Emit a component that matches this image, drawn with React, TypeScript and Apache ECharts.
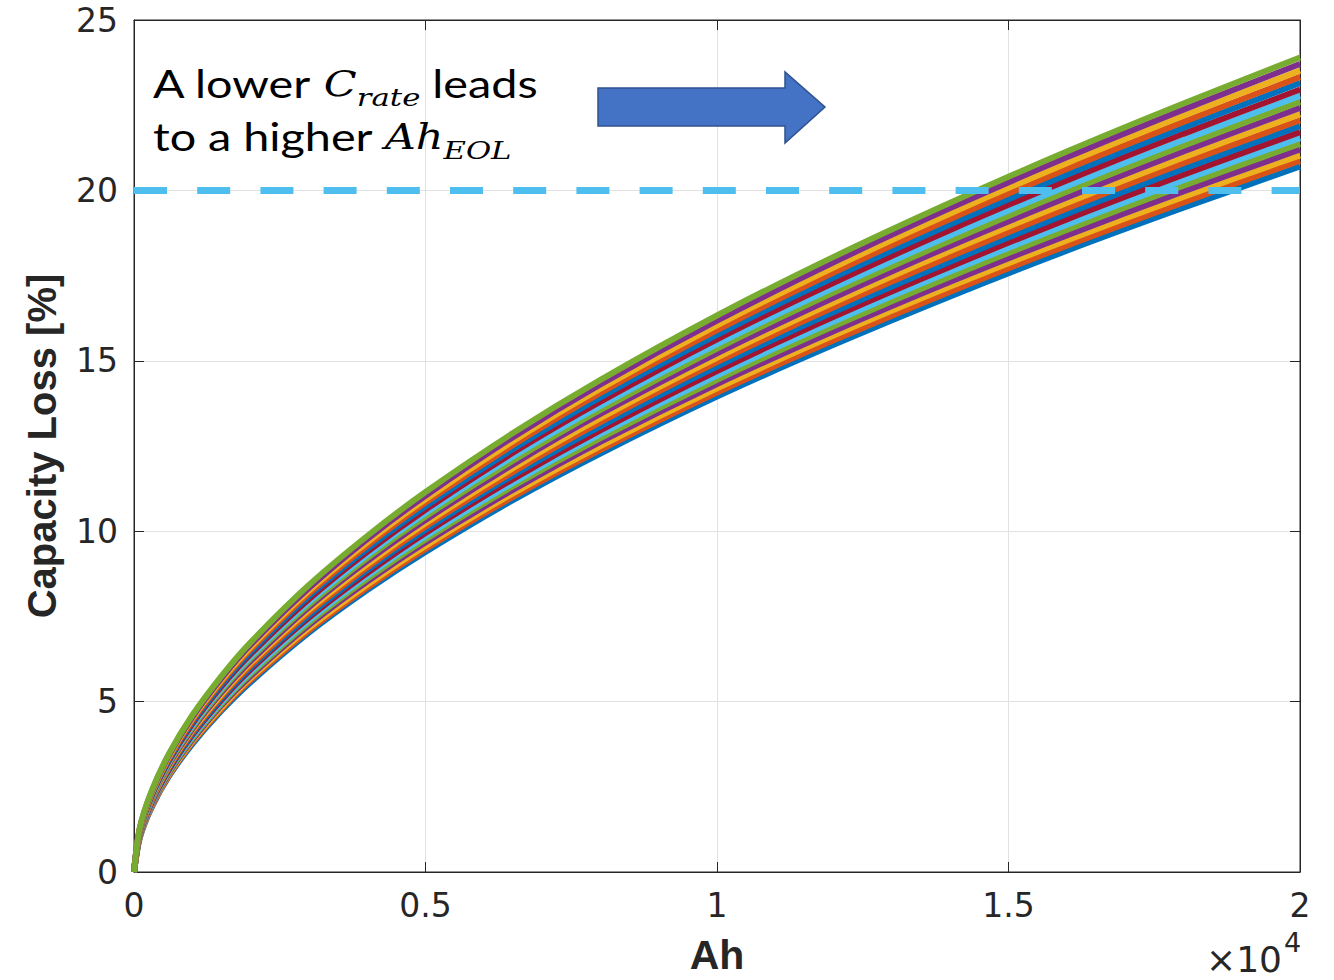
import React, { useEffect, useRef } from "react";
import * as echarts from "echarts";

// Ah sample positions (x) shared by every curve
const ahPoints = [0, 100, 300, 600, 1000, 1500, 2000, 3000, 4000, 5000, 6500, 8000, 10000, 12000, 14000, 16000, 18000, 20000];

// Capacity loss [%] of each C-rate curve, bottom (highest C-rate) to top
const loss01 = [0, 1.01, 1.89, 2.81, 3.75, 4.73, 5.57, 7.02, 8.27, 9.39, 10.91, 12.28, 13.95, 15.47, 16.89, 18.23, 19.49, 20.7];
const loss02 = [0, 1.02, 1.91, 2.84, 3.8, 4.78, 5.63, 7.09, 8.35, 9.48, 11.01, 12.39, 14.07, 15.6, 17.03, 18.38, 19.65, 20.87];
const loss03 = [0, 1.04, 1.94, 2.87, 3.84, 4.83, 5.69, 7.16, 8.43, 9.57, 11.11, 12.5, 14.19, 15.74, 17.18, 18.53, 19.81, 21.03];
const loss04 = [0, 1.05, 1.96, 2.91, 3.88, 4.89, 5.75, 7.24, 8.52, 9.67, 11.21, 12.62, 14.32, 15.87, 17.32, 18.68, 19.97, 21.2];
const loss05 = [0, 1.07, 1.99, 2.94, 3.93, 4.94, 5.81, 7.31, 8.6, 9.76, 11.32, 12.73, 14.44, 16.01, 17.47, 18.84, 20.14, 21.37];
const loss06 = [0, 1.08, 2.01, 2.98, 3.97, 4.99, 5.87, 7.38, 8.69, 9.85, 11.42, 12.85, 14.57, 16.15, 17.62, 18.99, 20.3, 21.54];
const loss07 = [0, 1.1, 2.04, 3.01, 4.02, 5.05, 5.94, 7.46, 8.77, 9.95, 11.53, 12.96, 14.7, 16.29, 17.76, 19.15, 20.46, 21.71];
const loss08 = [0, 1.11, 2.07, 3.05, 4.06, 5.1, 6.0, 7.53, 8.86, 10.04, 11.64, 13.08, 14.83, 16.43, 17.91, 19.31, 20.63, 21.89];
const loss09 = [0, 1.13, 2.09, 3.09, 4.11, 5.16, 6.06, 7.61, 8.94, 10.14, 11.74, 13.2, 14.96, 16.57, 18.06, 19.47, 20.8, 22.06];
const loss10 = [0, 1.14, 2.12, 3.12, 4.16, 5.21, 6.13, 7.69, 9.03, 10.23, 11.85, 13.32, 15.09, 16.71, 18.22, 19.63, 20.97, 22.24];
const loss11 = [0, 1.16, 2.15, 3.16, 4.2, 5.27, 6.19, 7.77, 9.12, 10.33, 11.96, 13.44, 15.22, 16.85, 18.37, 19.79, 21.14, 22.42];
const loss12 = [0, 1.18, 2.17, 3.2, 4.25, 5.33, 6.26, 7.84, 9.21, 10.43, 12.07, 13.56, 15.36, 17.0, 18.52, 19.96, 21.31, 22.6];
const loss13 = [0, 1.19, 2.2, 3.24, 4.3, 5.39, 6.32, 7.92, 9.3, 10.53, 12.19, 13.68, 15.49, 17.14, 18.68, 20.12, 21.48, 22.78];
const loss14 = [0, 1.21, 2.23, 3.27, 4.35, 5.45, 6.39, 8.0, 9.39, 10.63, 12.3, 13.8, 15.63, 17.29, 18.84, 20.29, 21.66, 22.96];
const loss15 = [0, 1.23, 2.26, 3.31, 4.4, 5.51, 6.46, 8.09, 9.48, 10.73, 12.41, 13.93, 15.76, 17.44, 19.0, 20.46, 21.84, 23.15];
const loss16 = [0, 1.24, 2.29, 3.35, 4.45, 5.57, 6.53, 8.17, 9.58, 10.84, 12.53, 14.06, 15.9, 17.59, 19.16, 20.63, 22.01, 23.33];
const loss17 = [0, 1.26, 2.31, 3.39, 4.5, 5.63, 6.6, 8.25, 9.67, 10.94, 12.64, 14.18, 16.04, 17.74, 19.32, 20.8, 22.19, 23.52];
const loss18 = [0, 1.28, 2.34, 3.43, 4.55, 5.69, 6.67, 8.33, 9.77, 11.04, 12.76, 14.31, 16.18, 17.89, 19.48, 20.97, 22.37, 23.71];
const loss19 = [0, 1.3, 2.37, 3.47, 4.6, 5.75, 6.74, 8.42, 9.86, 11.15, 12.88, 14.44, 16.33, 18.05, 19.64, 21.14, 22.55, 23.9];

const lossCurves = [loss01, loss02, loss03, loss04, loss05, loss06, loss07, loss08, loss09, loss10, loss11, loss12, loss13, loss14, loss15, loss16, loss17, loss18, loss19];

// MATLAB default colour order
const curveColors = ["#0072BD", "#D95319", "#EDB120", "#7E2F8E", "#77AC30", "#4DBEEE", "#A2142F"];

// End-of-life threshold line
const eolLevel = 20;
const eolAhRange = [0, 20000];

const xTickValues = [0, 5000, 10000, 15000, 20000];
const yTickValues = [0, 5, 10, 15, 20, 25];

const AXIS_COLOR = "#262626";
const GRID_COLOR = "#e2e2e2";
const TICK_FONT = "DejaVu Sans";

export default function App() {
  const ref = useRef<HTMLDivElement>(null);

  useEffect(() => {
    if (!ref.current) return;
    const chart = echarts.init(ref.current, undefined, { renderer: "svg" });

    const curveSeries = lossCurves.map((curve, i) => ({
      type: "line",
      name: `curve${i + 1}`,
      data: ahPoints.map((ah, j) => [ah, curve[j]]),
      showSymbol: false,
      symbol: "none",
      smooth: 0.3,
      silent: true,
      lineStyle: { width: 6, color: curveColors[i % curveColors.length] },
      xAxisIndex: 0,
      yAxisIndex: 0,
    }));

    const eolSeries = {
      type: "line",
      name: "EOL",
      data: eolAhRange.map((ah) => [ah, eolLevel]),
      showSymbol: false,
      symbol: "none",
      silent: true,
      lineStyle: { width: 7, color: "#4DBEEE", type: [33, 30.2] },
      xAxisIndex: 0,
      yAxisIndex: 0,
    };

    const xMin = xTickValues[0];
    const xMax = xTickValues[xTickValues.length - 1];
    const yMin = yTickValues[0];
    const yMax = yTickValues[yTickValues.length - 1];

    const option: any = {
      animation: false,
      backgroundColor: "#ffffff",
      grid: {
        left: 134,
        right: 34,
        top: 20,
        bottom: 107,
        show: true,
        borderColor: AXIS_COLOR,
        borderWidth: 1,
        backgroundColor: "transparent",
      },
      xAxis: [
        {
          type: "value",
          min: xMin,
          max: xMax,
          interval: 5000,
          position: "bottom",
          axisLine: { show: true, onZero: false, lineStyle: { color: AXIS_COLOR, width: 1 } },
          axisTick: { show: true, inside: true, length: 10, lineStyle: { color: AXIS_COLOR } },
          axisLabel: {
            show: true,
            margin: 16,
            color: AXIS_COLOR,
            fontFamily: TICK_FONT,
            fontSize: 33,
            lineHeight: 34,
            formatter: (v: number) => String(v / 10000),
          },
          splitLine: { show: true, lineStyle: { color: GRID_COLOR, width: 1 } },
          name: "Ah",
          nameLocation: "middle",
          nameGap: 62,
          nameTextStyle: {
            fontFamily: "Liberation Sans",
            fontWeight: "bold",
            fontSize: 41,
            color: AXIS_COLOR,
          },
        },
        {
          type: "value",
          min: xMin,
          max: xMax,
          interval: 5000,
          position: "top",
          axisLine: { show: true, onZero: false, lineStyle: { color: AXIS_COLOR, width: 1 } },
          axisTick: { show: true, inside: true, length: 10, lineStyle: { color: AXIS_COLOR } },
          axisLabel: { show: false },
          splitLine: { show: false },
        },
      ],
      yAxis: [
        {
          type: "value",
          min: yMin,
          max: yMax,
          interval: 5,
          position: "left",
          axisLine: { show: true, onZero: false, lineStyle: { color: AXIS_COLOR, width: 1 } },
          axisTick: { show: true, inside: true, length: 10, lineStyle: { color: AXIS_COLOR } },
          axisLabel: {
            show: true,
            margin: 16,
            color: AXIS_COLOR,
            fontFamily: TICK_FONT,
            fontSize: 33,
          },
          splitLine: { show: true, lineStyle: { color: GRID_COLOR, width: 1 } },
          name: "Capacity Loss [%]",
          nameLocation: "middle",
          nameGap: 72,
          nameTextStyle: {
            fontFamily: "Liberation Sans",
            fontWeight: "bold",
            fontSize: 40,
            color: AXIS_COLOR,
          },
        },
        {
          type: "value",
          min: yMin,
          max: yMax,
          interval: 5,
          position: "right",
          axisLine: { show: true, onZero: false, lineStyle: { color: AXIS_COLOR, width: 1 } },
          axisTick: { show: true, inside: true, length: 10, lineStyle: { color: AXIS_COLOR } },
          axisLabel: { show: false },
          splitLine: { show: false },
        },
      ],
      series: [...curveSeries, eolSeries],
      graphic: [
        {
          type: "text",
          x: 153,
          y: 57,
          scaleX: 1.23,
          z: 100,
          style: {
            text: "{n|A lower }{m|C}{s|rate}{n| leads}\n{n|to a higher }{m|Ah}{s|EOL}",
            fill: "#000000",
            rich: {
              n: { fontFamily: "Lato", fontSize: 38, lineHeight: 53, fill: "#000000" },
              m: {
                fontFamily: "DejaVu Serif",
                fontStyle: "italic",
                fontSize: 35,
                lineHeight: 53,
                fill: "#000000",
              },
              s: {
                fontFamily: "DejaVu Serif",
                fontStyle: "italic",
                fontSize: 25,
                lineHeight: 22,
                verticalAlign: "bottom",
                fill: "#000000",
              },
            },
          },
        },
        {
          type: "polygon",
          z: 100,
          shape: {
            points: [
              [598, 88],
              [785, 88],
              [785, 72],
              [825, 107],
              [785, 143],
              [785, 126],
              [598, 126],
            ],
          },
          style: { fill: "#4472C4", stroke: "#2F528F", lineWidth: 1.5 },
        },
        {
          type: "text",
          x: 1206,
          y: 941,
          z: 100,
          style: {
            text: "\u00d710",
            fontFamily: TICK_FONT,
            fontSize: 36,
            lineHeight: 36,
            fill: AXIS_COLOR,
          },
        },
        {
          type: "text",
          x: 1284,
          y: 929,
          z: 100,
          style: {
            text: "4",
            fontFamily: TICK_FONT,
            fontSize: 27,
            lineHeight: 27,
            fill: AXIS_COLOR,
          },
        },
      ],
    };

    chart.setOption(option);
    return () => {
      chart.dispose();
    };
  }, []);

  return (
    <div
      ref={ref}
      style={{ position: "fixed", left: 0, top: 0, width: 1334, height: 980, background: "#ffffff" }}
    />
  );
}
